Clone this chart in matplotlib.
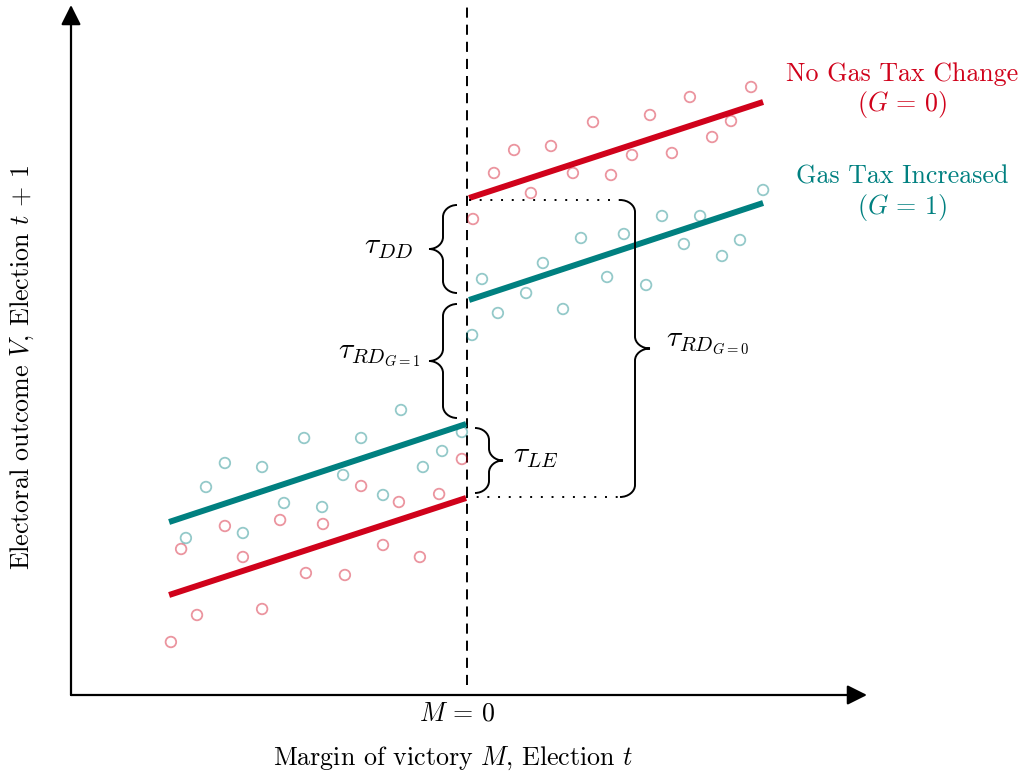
import numpy as np
import matplotlib
matplotlib.use("Agg")
import matplotlib.pyplot as plt
from matplotlib.path import Path
from matplotlib.patches import PathPatch

plt.rcParams['font.family'] = 'serif'
plt.rcParams['font.serif'] = ['cmr10']
plt.rcParams['mathtext.fontset'] = 'cm'
plt.rcParams['axes.unicode_minus'] = False

# ---------------- data ----------------
# Margin of victory M (left of cutoff: M<0) and outcome V
red_left_M = [-0.987, -0.953, -0.900, -0.807, -0.747, -0.683, -0.623, -0.537,
              -0.480, -0.407, -0.353, -0.280, -0.227, -0.157, -0.093, -0.017]
red_left_V = [0.53, 1.46, 0.80, 1.69, 1.38, 0.86, 1.75, 1.22,
              1.71, 1.20, 2.09, 1.50, 1.93, 1.38, 2.01, 2.36]
teal_left_M = [-0.937, -0.870, -0.807, -0.747, -0.683, -0.610, -0.543, -0.483,
               -0.413, -0.353, -0.280, -0.220, -0.147, -0.083, -0.017]
teal_left_V = [1.57, 2.08, 2.32, 1.62, 2.28, 1.92, 2.57, 1.88,
               2.20, 2.57, 2.00, 2.85, 2.28, 2.44, 2.63]
red_right_M = [0.020, 0.090, 0.157, 0.213, 0.280, 0.353, 0.420, 0.480,
               0.550, 0.610, 0.683, 0.743, 0.817, 0.880, 0.947]
red_right_V = [4.76, 5.22, 5.45, 5.02, 5.49, 5.22, 5.73, 5.20,
               5.40, 5.80, 5.42, 5.98, 5.58, 5.74, 6.08]
teal_right_M = [0.017, 0.050, 0.103, 0.197, 0.253, 0.320, 0.380, 0.467,
                0.523, 0.597, 0.650, 0.723, 0.777, 0.850, 0.910, 0.987]
teal_right_V = [3.60, 4.16, 3.82, 4.02, 4.32, 3.86, 4.57, 4.18,
                4.61, 4.10, 4.79, 4.51, 4.79, 4.39, 4.55, 5.05]

# fitted lines (endpoints)
left_line_M = [-0.993, -0.003]
right_line_M = [0.007, 0.987]
red_left_line_V = [1.00, 1.97]
teal_left_line_V = [1.73, 2.71]
red_right_line_V = [4.97, 5.93]
teal_right_line_V = [3.95, 4.92]

RED = '#d0021b'
TEAL = '#008080'

# ---------------- figure ----------------
fig = plt.figure(figsize=(10.24, 7.76), dpi=100)
ax = fig.add_axes([0, 0, 1, 1])
SX, SY = 300.0, 100.0          # pixels per data unit
X0, Y0 = 467.0, 695.0          # pixel of M=0, V=0
ax.set_xlim(-X0 / SX, (1024 - X0) / SX)
ax.set_ylim((Y0 - 776) / SY, Y0 / SY)
ax.axis('off')

def px(x, y):
    return (x - X0) / SX, (Y0 - y) / SY

# axes with arrows
ax_left, _ = px(71, 0)
_, ax_top = px(0, 5)
ax_right, _ = px(867, 0)
ax.annotate('', xy=(ax_right, 0), xytext=(ax_left, 0),
            arrowprops=dict(arrowstyle='-|>', mutation_scale=30, lw=1.6,
                            color='k', shrinkA=0, shrinkB=0))
ax.annotate('', xy=(ax_left, ax_top), xytext=(ax_left, 0),
            arrowprops=dict(arrowstyle='-|>', mutation_scale=30, lw=1.6,
                            color='k', shrinkA=0, shrinkB=0))

# cutoff dashed line
ax.plot([0, 0], [px(0, 685)[1], px(0, 5)[1]], color='k', lw=1.4,
        ls=(0, (5.2, 3.6)), zorder=2)

# scatter
sc_kw = dict(s=58, facecolors='none', linewidths=1.3, alpha=0.42, zorder=3)
ax.scatter(red_left_M, red_left_V, edgecolors=RED, **sc_kw)
ax.scatter(red_right_M, red_right_V, edgecolors=RED, **sc_kw)
ax.scatter(teal_left_M, teal_left_V, edgecolors=TEAL, **sc_kw)
ax.scatter(teal_right_M, teal_right_V, edgecolors=TEAL, **sc_kw)

# lines
ax.plot(left_line_M, red_left_line_V, color=RED, lw=4.3, solid_capstyle='butt', zorder=4)
ax.plot(right_line_M, red_right_line_V, color=RED, lw=4.3, solid_capstyle='butt', zorder=4)
ax.plot(left_line_M, teal_left_line_V, color=TEAL, lw=4.3, solid_capstyle='butt', zorder=4)
ax.plot(right_line_M, teal_right_line_V, color=TEAL, lw=4.3, solid_capstyle='butt', zorder=4)

# braces
def brace(m_end, v_top, v_bot, direction, amp_px=28, q_px=12):
    amp = amp_px / SX
    q = q_px / SY
    xe = m_end
    xv = m_end + direction * amp / 2
    xt = m_end + direction * amp
    ym = (v_top + v_bot) / 2
    verts = [
        (xe, v_top),
        (xe + (xv - xe) * 0.55, v_top), (xv, v_top - q * 0.45), (xv, v_top - q),
        (xv, ym + q),
        (xv, ym + q * 0.45), (xv + (xt - xv) * 0.45, ym), (xt, ym),
        (xv + (xt - xv) * 0.45, ym), (xv, ym - q * 0.45), (xv, ym - q),
        (xv, v_bot + q),
        (xv, v_bot + q * 0.45), (xe + (xv - xe) * 0.55, v_bot), (xe, v_bot),
    ]
    codes = [Path.MOVETO,
             Path.CURVE4, Path.CURVE4, Path.CURVE4,
             Path.LINETO,
             Path.CURVE4, Path.CURVE4, Path.CURVE4,
             Path.CURVE4, Path.CURVE4, Path.CURVE4,
             Path.LINETO,
             Path.CURVE4, Path.CURVE4, Path.CURVE4]
    ax.add_patch(PathPatch(Path(verts, codes), fill=False, lw=1.4,
                           edgecolor='k', zorder=5))
    return xt, ym

FS = 18.7
TFS = 21.5
gap = 0.04
left_end = px(457, 0)[0]
xt, ym = brace(left_end, red_right_line_V[0] - 0.07, teal_right_line_V[0] + 0.07, -1)
ax.text(xt - 16 / SX, ym + 0.02, r'$\tau_{DD}$', ha='right', va='center', fontsize=TFS)
xt, ym = brace(left_end, teal_right_line_V[0] - gap, teal_left_line_V[1] + 0.06, -1)
ax.text(xt - 9 / SX, ym + 0.06, r'$\tau_{RD_{G=1}}$', ha='right', va='center', fontsize=TFS)
xt, ym = brace(px(475, 0)[0], teal_left_line_V[1] - gap, red_left_line_V[1] + 0.05, 1)
ax.text(xt + 10 / SX, ym + 0.04, r'$\tau_{LE}$', ha='left', va='center', fontsize=TFS)
brace_r = px(620, 0)[0]
xt, ym = brace(brace_r, red_right_line_V[0] - 0.02, red_left_line_V[1] + 0.01, 1, amp_px=30)
ax.text(xt + 16 / SX, ym + 0.05, r'$\tau_{RD_{G=0}}$', ha='left', va='center', fontsize=TFS)

# dotted connectors
ax.plot([right_line_M[0], brace_r], [red_right_line_V[0] - 0.02] * 2, color='k',
        lw=1.4, ls=(0, (1, 4.5)), zorder=5)
ax.plot([left_line_M[1], brace_r], [red_left_line_V[1] + 0.01] * 2, color='k',
        lw=1.4, ls=(0, (1, 4.5)), zorder=5)

# texts
ax.text(*px(457, 714), r'$M\,=\,0$', ha='center', va='center', fontsize=FS)
ax.text(*px(453, 758), r'Margin of victory $M$, Election $t$', ha='center', va='center', fontsize=FS)
ax.text(*px(22, 368), r'Electoral outcome $V$, Election $t\,+\,1$', ha='center', va='center',
        rotation=90, fontsize=FS)
ax.text(*px(902, 74), 'No Gas Tax Change', color=RED, ha='center', va='center', fontsize=FS)
ax.text(*px(902, 105), r'$(G\,=\,0)$', color=RED, ha='center', va='center', fontsize=FS)
ax.text(*px(902, 177), 'Gas Tax Increased', color=TEAL, ha='center', va='center', fontsize=FS)
ax.text(*px(902, 208), r'$(G\,=\,1)$', color=TEAL, ha='center', va='center', fontsize=FS)

fig.savefig('out.png', dpi=100)
